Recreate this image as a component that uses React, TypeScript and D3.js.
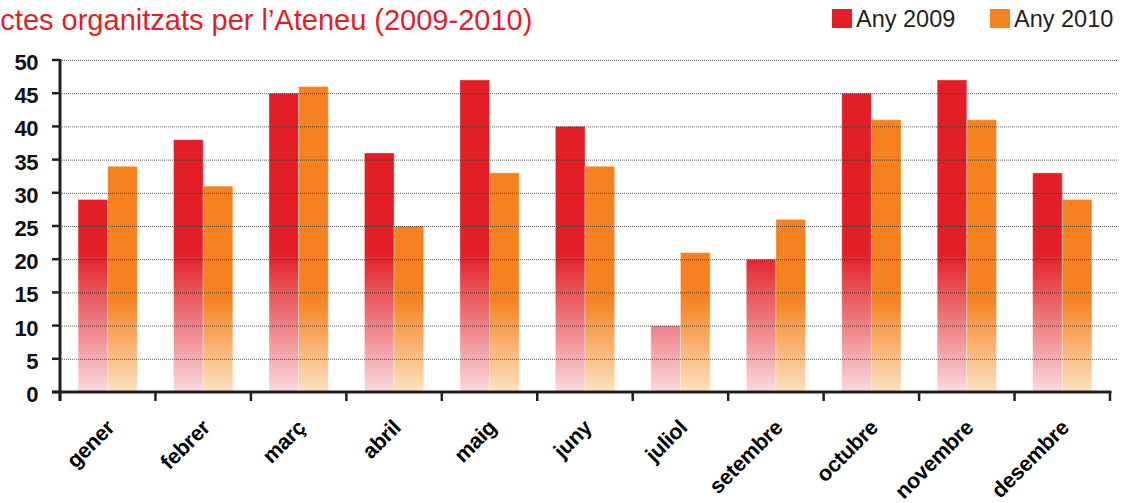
import { useRef, useEffect } from "react";
import * as d3 from "d3";

const months = ["gener", "febrer", "març", "abril", "maig", "juny", "juliol", "setembre", "octubre", "novembre", "desembre"];
const any2009 = [29, 38, 45, 36, 47, 40, 10, 20, 45, 47, 33];
const any2010 = [34, 31, 46, 25, 33, 34, 21, 26, 41, 41, 29];
const seriesNames = ["Any 2009", "Any 2010"];
const yTicks = [0, 5, 10, 15, 20, 25, 30, 35, 40, 45, 50];

export default function App() {
  const svgRef = useRef<SVGSVGElement>(null);

  useEffect(() => {
    const w = 1128;
    const h = 503;
    const left = 60;
    const right = 1110;
    const top = 60;
    const bottom = 392;
    const ink = "#231f20";
    const font = "'Liberation Sans', Arial, Helvetica, sans-serif";

    const svg = d3.select(svgRef.current).attr("width", w).attr("height", h);
    svg.selectAll("*").remove();

    const x = d3.scaleBand().domain(months).range([left, right]);
    const x1 = d3.scaleBand().domain(seriesNames).range([0, x.bandwidth()]).paddingOuter(0.61);
    const y = d3.scaleLinear().domain([0, 50]).range([bottom, top]);

    // gradients, fixed to the plot area: solid colour above `from`, fading to the axis
    const defs = svg.append("defs");
    const grads = [
      { id: "g2009", top: "#e31e26", bottom: "#f9dade", from: 21 },
      { id: "g2010", top: "#f5821f", bottom: "#fde2c2", from: 14 },
    ];
    grads.forEach((g) => {
      const lg = defs
        .append("linearGradient")
        .attr("id", g.id)
        .attr("gradientUnits", "userSpaceOnUse")
        .attr("x1", 0)
        .attr("x2", 0)
        .attr("y1", y(g.from))
        .attr("y2", y(0));
      lg.append("stop").attr("offset", 0).attr("stop-color", g.top);
      lg.append("stop").attr("offset", 1).attr("stop-color", g.bottom);
    });

    // title (first letter runs off the page, as in the original)
    svg
      .append("text")
      .attr("x", -19)
      .attr("y", 30)
      .attr("font-family", font)
      .attr("font-size", 29)
      .attr("fill", "#e31e26")
      .text("Actes organitzats per l’Ateneu (2009-2010)");

    // legend
    const legendX = [832, 990];
    seriesNames.forEach((name, i) => {
      svg
        .append("rect")
        .attr("x", legendX[i])
        .attr("y", 9)
        .attr("width", 20)
        .attr("height", 19)
        .attr("fill", grads[i].top);
      svg
        .append("text")
        .attr("x", legendX[i] + 24)
        .attr("y", 27)
        .attr("font-family", font)
        .attr("font-size", 23.5)
        .attr("fill", ink)
        .text(name);
    });

    // bars
    const series = [any2009, any2010];
    series.forEach((vals, si) => {
      svg
        .append("g")
        .selectAll("rect")
        .data(vals)
        .join("rect")
        .attr("x", (d, i) => (x(months[i]) as number) + (x1(seriesNames[si]) as number))
        .attr("y", (d) => y(d))
        .attr("width", x1.bandwidth())
        .attr("height", (d) => bottom - y(d))
        .attr("fill", `url(#${grads[si].id})`)
        .attr("stroke", "#fff")
        .attr("stroke-opacity", 0.35)
        .attr("stroke-width", 1);
    });

    // dotted gridlines, drawn over the bars
    svg
      .append("g")
      .selectAll("line")
      .data(yTicks.filter((d) => d > 0))
      .join("line")
      .attr("x1", left)
      .attr("x2", 1117)
      .attr("y1", (d) => y(d) + 0.5)
      .attr("y2", (d) => y(d) + 0.5)
      .attr("stroke", "#333")
      .attr("stroke-opacity", 0.8)
      .attr("stroke-width", 1)
      .attr("stroke-dasharray", "1,1");

    // y axis
    const yAxis = svg.append("g");
    yAxis
      .append("line")
      .attr("x1", left)
      .attr("x2", left)
      .attr("y1", top - 1)
      .attr("y2", bottom + 9)
      .attr("stroke", ink)
      .attr("stroke-width", 3);
    yAxis
      .selectAll(".tick")
      .data(yTicks)
      .join("line")
      .attr("x1", 52)
      .attr("x2", left)
      .attr("y1", (d) => y(d))
      .attr("y2", (d) => y(d))
      .attr("stroke", ink)
      .attr("stroke-width", 2.5);
    yAxis
      .selectAll("text")
      .data(yTicks)
      .join("text")
      .attr("x", 38)
      .attr("y", (d) => y(d) + 10)
      .attr("text-anchor", "end")
      .attr("font-family", font)
      .attr("font-weight", "bold")
      .attr("font-size", 22)
      .attr("letter-spacing", -0.5)
      .attr("fill", "#111")
      .text((d) => d);

    // x axis
    const xAxis = svg.append("g");
    xAxis
      .append("line")
      .attr("x1", 52)
      .attr("x2", right + 1.5)
      .attr("y1", bottom)
      .attr("y2", bottom)
      .attr("stroke", ink)
      .attr("stroke-width", 3);
    xAxis
      .selectAll(".tick")
      .data([...months.map((m) => x(m) as number), right])
      .join("line")
      .attr("x1", (d) => d)
      .attr("x2", (d) => d)
      .attr("y1", bottom)
      .attr("y2", bottom + 9)
      .attr("stroke", ink)
      .attr("stroke-width", 2.5);
    xAxis
      .selectAll("text")
      .data(months)
      .join("text")
      .attr("transform", (d) => `translate(${(x(d) as number) + x.bandwidth() / 2 + 8},${429}) rotate(-45)`)
      .attr("text-anchor", "end")
      .attr("font-family", font)
      .attr("font-weight", "bold")
      .attr("font-size", 21.5)
      .attr("letter-spacing", -0.3)
      .attr("fill", "#000")
      .text((d) => d);
  }, []);

  return <svg ref={svgRef} style={{ position: "absolute", left: 0, top: 0 }}></svg>;
}
